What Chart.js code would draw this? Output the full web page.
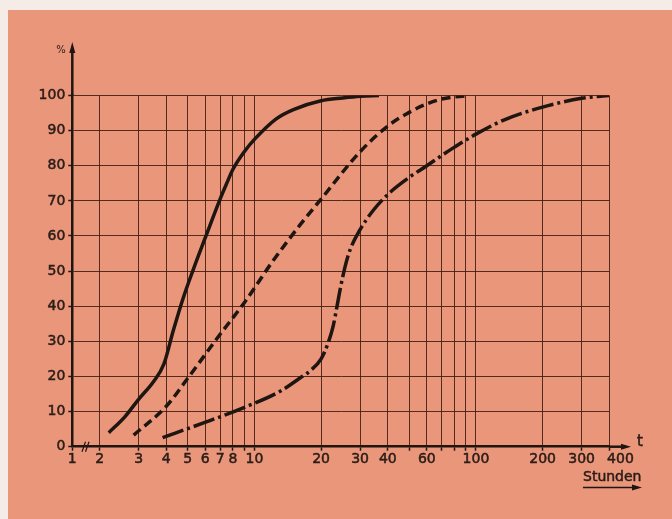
<!DOCTYPE html>
<html>
<head>
<meta charset="utf-8">
<script src="https://cdn.jsdelivr.net/npm/chart.js@4.4.1/dist/chart.umd.min.js"></script>
<style>
  html, body { margin: 0; padding: 0; background: #f5ece8; }
  canvas { display: block; }
</style>
</head>
<body>
<canvas id="chart" width="672" height="519"></canvas>
<script>
// Zeitachse in Stunden (logarithmisch). Die "1" steht hinter dem Achsenbruch.
const X_START = 1.506;
const X_END = 400;
const xTickValues = [X_START, 2, 3, 4, 5, 6, 7, 8, 9, 10, 20, 30, 40, 50, 60, 70, 80, 90, 100, 200, 300, 400];
const xTickLabels = ['1', '2', '3', '4', '5', '6', '7', '8', '', '10', '20', '30', '40', '', '60', '', '', '', '100', '200', '300', '400'];
const yTickValues = [0, 10, 20, 30, 40, 50, 60, 70, 80, 90, 100];

// durchgezogene Kurve
const solidT = [2.2, 2.6, 3, 3.5, 3.9, 4.3, 4.75, 5.3, 6, 7, 7.5, 8, 9, 10, 12.5, 15, 20, 25, 30, 36.5];
const solidV = [4, 8.5, 13.5, 18.5, 23.5, 33, 42, 50.5, 59.5, 70.5, 75, 79, 84, 87.5, 93.3, 96, 98.5, 99.3, 99.8, 100];

// gestrichelte Kurve
const dashT = [2.85, 4, 5, 7, 9, 12, 16, 20, 30, 40, 50, 60, 70, 92];
const dashV = [3.3, 11.5, 19.5, 32, 41, 52.5, 63, 70.5, 84, 91.3, 95.2, 97.6, 99, 100];

// strichpunktierte Kurve
const dotT = [3.85, 5.85, 8.85, 13, 16, 18, 20, 21.5, 22.7, 23.6, 24.5, 25.6, 27, 29.8, 34.2, 40.6, 50, 60, 70, 80, 100, 137, 200, 300, 400];
const dotV = [2.6, 6.7, 11, 15.7, 19.5, 21.8, 25, 29.5, 34.5, 40, 45.5, 51, 56, 61.5, 67.1, 72.2, 76.7, 80, 82.9, 85.3, 89, 93.3, 96.7, 99.2, 100];

const INK = '#1f1511';
const TEXT = '#2a1c17';
const PAPER = '#e9967a';
const GRID = 'rgba(60, 25, 15, 0.85)';
const FONT = '"DejaVu Sans", "Liberation Sans", sans-serif';

function toPoints(ts, vs) {
    return ts.map((t, i) => ({ x: t, y: vs[i] }));
}

function curve(ts, vs, dash) {
    return {
        data: toPoints(ts, vs),
        showLine: true,
        borderColor: INK,
        borderWidth: 3.5,
        borderDash: dash,
        borderCapStyle: 'butt',
        cubicInterpolationMode: 'monotone',
        pointRadius: 0,
        fill: false
    };
}

function arrowHead(ctx, x, y, dir) {
    ctx.beginPath();
    if (dir === 'up') {
        ctx.moveTo(x, y);
        ctx.lineTo(x - 3, y + 11);
        ctx.lineTo(x + 3, y + 11);
    } else {
        ctx.moveTo(x, y);
        ctx.lineTo(x - 10, y - 3);
        ctx.lineTo(x - 10, y + 3);
    }
    ctx.closePath();
    ctx.fill();
}

// Text etwas kraeftiger, wie im Druck
function boldish(ctx, text, x, y) {
    ctx.fillText(text, x, y);
    ctx.strokeText(text, x, y);
}

const paper = {
    id: 'paper',
    beforeDraw(chart) {
        const ctx = chart.ctx;
        ctx.save();
        ctx.fillStyle = PAPER;
        ctx.fillRect(8, 10, chart.width - 8, chart.height - 10);
        ctx.restore();
    },
    afterDraw(chart) {
        const { ctx, chartArea } = chart;
        const { left, right, top, bottom } = chartArea;
        ctx.save();
        ctx.strokeStyle = INK;
        ctx.fillStyle = INK;
        ctx.lineWidth = 2.5;

        // y-Achse nach oben verlaengert
        ctx.beginPath();
        ctx.moveTo(left, top);
        ctx.lineTo(left, 50);
        ctx.stroke();
        arrowHead(ctx, left, 42, 'up');

        // x-Achse nach rechts verlaengert
        ctx.beginPath();
        ctx.moveTo(right, bottom);
        ctx.lineTo(624, bottom);
        ctx.stroke();
        arrowHead(ctx, 631, bottom, 'right');

        // Achsenbruch
        ctx.lineWidth = 1.2;
        [[82, 85.5], [85.5, 89]].forEach(([a, b]) => {
            ctx.beginPath();
            ctx.moveTo(a, bottom + 5);
            ctx.lineTo(b, bottom - 5);
            ctx.stroke();
        });

        // Beschriftungen
        ctx.fillStyle = TEXT;
        ctx.strokeStyle = TEXT;
        ctx.lineWidth = 0.5;
        ctx.font = '10px ' + FONT;
        ctx.textAlign = 'center';
        ctx.textBaseline = 'middle';
        ctx.fillText('%', 61, 50);

        ctx.font = '15px ' + FONT;
        boldish(ctx, 't', 640, bottom - 5);

        ctx.font = '14px ' + FONT;
        ctx.textAlign = 'left';
        ctx.textBaseline = 'alphabetic';
        boldish(ctx, 'Stunden', 583, 481);

        ctx.fillStyle = INK;
        ctx.strokeStyle = INK;
        ctx.lineWidth = 1.3;
        ctx.beginPath();
        ctx.moveTo(583, 487.5);
        ctx.lineTo(634, 487.5);
        ctx.stroke();
        arrowHead(ctx, 642, 487.5, 'right');
        ctx.restore();
    }
};

new Chart(document.getElementById('chart'), {
    type: 'scatter',
    data: {
        datasets: [
            curve(solidT, solidV, []),
            curve(dashT, dashV, [9, 5]),
            curve(dotT, dotV, [22, 4, 3, 4])
        ]
    },
    options: {
        responsive: false,
        animation: false,
        events: [],
        layout: { padding: { top: 95.5, right: 62.7, bottom: 0, left: 0 } },
        plugins: {
            legend: { display: false },
            tooltip: { enabled: false }
        },
        scales: {
            x: {
                type: 'logarithmic',
                min: X_START,
                max: X_END,
                bounds: 'data',
                afterBuildTicks: scale => {
                    scale.ticks = xTickValues.map(v => ({ value: v }));
                },
                afterFit: scale => { scale.height = 72.3; },
                grid: {
                    color: GRID,
                    lineWidth: 1,
                    tickLength: 4,
                    tickColor: INK,
                    tickWidth: 1.5
                },
                border: { color: INK, width: 2.5 },
                ticks: {
                    autoSkip: false,
                    maxRotation: 0,
                    padding: 0,
                    color: TEXT,
                    textStrokeColor: TEXT,
                    textStrokeWidth: 0.5,
                    font: { family: FONT, size: 14 },
                    // die letzte Zahl steht im Original etwas nach rechts versetzt
                    callback: (value, index) => index === xTickLabels.length - 1
                        ? '\u00a0\u00a0\u00a0\u00a0\u00a0' + xTickLabels[index]
                        : xTickLabels[index]
                }
            },
            y: {
                min: 0,
                max: 100,
                afterBuildTicks: scale => {
                    scale.ticks = yTickValues.map(v => ({ value: v }));
                },
                afterFit: scale => { scale.width = 72.3; },
                grid: {
                    color: GRID,
                    lineWidth: 1,
                    tickLength: 4,
                    tickColor: INK,
                    tickWidth: 1.5
                },
                border: { color: INK, width: 2.5 },
                ticks: {
                    padding: 3,
                    color: TEXT,
                    textStrokeColor: TEXT,
                    textStrokeWidth: 0.5,
                    font: { family: FONT, size: 14 },
                    callback: value => String(value)
                }
            }
        }
    },
    plugins: [paper]
});
</script>
</body>
</html>
